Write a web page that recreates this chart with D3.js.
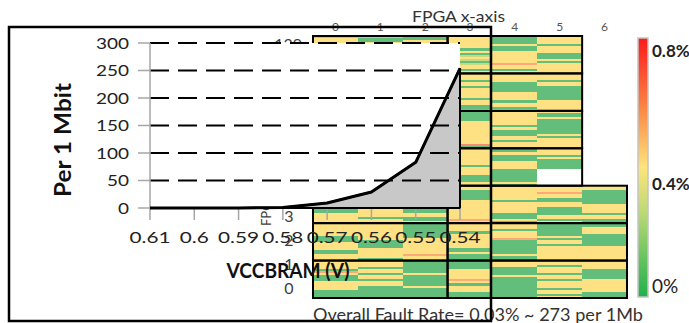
<!DOCTYPE html>
<html>
<head>
<meta charset="utf-8">
<script src="https://cdn.jsdelivr.net/npm/d3@7"></script>
<style>
    body { margin: 0; background: #fff; }
    text { font-family: Lato, "Open Sans", sans-serif; }
</style>
</head>
<body>
<svg id="chart" width="689" height="323"></svg>
<script>
// inset chart: faults per 1 Mbit vs VCCBRAM
const voltages = ["0.61", "0.6", "0.59", "0.58", "0.57", "0.56", "0.55", "0.54"];
const faultsPerMbit = [0, 0, 0, 1, 9, 29, 83, 254];
const yTicks = [0, 50, 100, 150, 200, 250, 300];

// FPGA heat map, one string per clock region row (top -> bottom), one char per BRAM stripe
// G = 0%, g = ~0.1%, l = ~0.25%, Y = ~0.4%, o = ~0.6%, r = ~0.7%, . = no BRAM
const col0 = ["oYYYGYYGYYYGYYGYYY", "", "", "", "YYGYYYGYYYYGGYYYYY", "YYYYYYGGGYYYYGGYYY", "YYYYGoYGGGYYYYGGGG"];
const col1 = ["oGGYYYGGYYYGYYYGYY", "", "", "", "GYYGYYYYYYYYYYYGYY", "YYYYYYYYGGGGYYYYYG", "YYYGYYGYYGYYGGGGGG"];
const col2 = ["GGYYYGGYGYYYGGYYYG", "", "", "", "GGYYGGYYGYYGGYYGGY", "GGGGGGGYYYYYYYYoYY", "GGGGGGYGGGGGYGGGGG"];
const col3 = ["YYYYYYGYGlYlGlYYGY", "YYYGYYGYYYYYGYYGGY", "GGGGGYYYYYYYYYYYrG", "YYYYYYYYGYYYYGGGYY",
              "YYGGGGGYYYYYYYYYoY", "YYYYGYYYYYYYGGYGGG", "GGGGYYYYYoYGYYYGGG"];
const col4 = ["GGGGYGGYYYYYYoYYGY", "YYYYGGGGGYYYYGYYGY", "YYYYYYYGYGGGYYGYYY", "GGYGGGYYYYGGGGGGYG",
              "YYYYYYYGYYYYYGGGYG", "YYYGYYYoGGGGGGGYGG", "YYYGGGGYGGGGGGGGGG"];
const col5 = ["YYYYGYYYGGGYGYYYYY", "YYYGYYGGGGGGGYYYYY", "YGGYGGGGGGGYGYYYYY", "YYYGYGGGGG........",
              "YYYoYYGGYYGGGGYYGY", "GGGGGGYGYYGYYYYYYY", "YYGYYYGYYGYYYGYYGY"];
const col6 = ["", "", "", "", "YYGGGGGGGYYYYGYYGG", "GGYYYGGGGGGYYYYYYY", "YYYYGGGGGYYYYYYGGG"];

const fpgaCols = ["0", "1", "2", "3", "4", "5", "6"];
const fpgaRowLabels = ["0", "1", "2", "3"];
const stripeLevels = { G: 0, g: 0.1, l: 0.25, Y: 0.43, o: 0.6, r: 0.7 };
const legendTicks = [0, 0.4, 0.8];
const legendLabels = ["0%", "0.4%", "0.8%"];

const svg = d3.select("#chart");

function stretch(sel, len) {
    sel.attr("textLength", len).attr("lengthAdjust", "spacingAndGlyphs");
}

// ---------- heat map ----------
const columns = [col0, col1, col2, col3, col4, col5, col6];
const xBand = d3.scaleBand().domain(fpgaCols).range([313, 627]);
const rowBand = d3.scaleBand().domain(d3.range(7)).range([36, 298]);
const heat = d3.scaleLinear()
    .domain([0, 0.4, 0.8])
    .range(["#63BE7B", "#FFEB84", "#F8696B"]);

let stripes = [];
columns.forEach((col, c) => {
    col.forEach((s, r) => {
        const h = rowBand.bandwidth() / (s.length || 1);
        s.split("").forEach((ch, i) => {
            if (ch === ".") return;
            stripes.push({ col: fpgaCols[c], row: r, i: i, h: h, v: stripeLevels[ch] });
        });
    });
});

svg.append("g")
    .attr("shape-rendering", "crispEdges")
    .selectAll("rect")
    .data(stripes)
    .join("rect")
    .attr("x", d => xBand(d.col))
    .attr("y", d => rowBand(d.row) + d.i * d.h)
    .attr("width", xBand.bandwidth())
    .attr("height", d => d.h + 0.4)
    .attr("fill", d => heat(d.v));

// clock region borders: left half cols 0-2, right half cols 3..last
const regions = [];
d3.range(7).forEach(r => {
    regions.push({ row: r, from: 0, to: 2 });
    const last = col6[r] ? 6 : 5;
    regions.push({ row: r, from: 3, to: last });
});
svg.append("g")
    .selectAll("rect")
    .data(regions)
    .join("rect")
    .attr("x", d => xBand(fpgaCols[d.from]))
    .attr("y", d => rowBand(d.row))
    .attr("width", d => xBand(fpgaCols[d.to]) + xBand.bandwidth() - xBand(fpgaCols[d.from]))
    .attr("height", rowBand.bandwidth())
    .attr("fill", "none")
    .attr("stroke", "#000")
    .attr("stroke-width", 2);

svg.append("g")
    .selectAll("text")
    .data(fpgaCols)
    .join("text")
    .attr("x", d => xBand(d) + xBand.bandwidth() / 2)
    .attr("y", 31)
    .attr("text-anchor", "middle")
    .attr("font-size", 12)
    .attr("fill", "#555")
    .text(d => d);

svg.append("text")
    .attr("x", 412)
    .attr("y", 22)
    .attr("font-size", 16)
    .attr("fill", "#333")
    .text("FPGA x-axis")
    .call(stretch, 93);

const fpgaY = d3.scaleLinear().domain([0, 3]).range([294, 222]);
svg.append("g")
    .selectAll("text")
    .data(fpgaRowLabels)
    .join("text")
    .attr("x", 289)
    .attr("y", d => fpgaY(+d))
    .attr("text-anchor", "middle")
    .attr("font-size", 16)
    .attr("fill", "#404040")
    .text(d => d);

svg.append("text")
    .attr("x", 302)
    .attr("y", 50)
    .attr("text-anchor", "end")
    .attr("font-size", 16)
    .attr("fill", "#404040")
    .text("139");

svg.append("text")
    .attr("transform", "translate(271,226) rotate(-90)")
    .attr("font-size", 13)
    .attr("fill", "#404040")
    .text("FPGA y-axis");

svg.append("text")
    .attr("x", 313)
    .attr("y", 321)
    .attr("font-size", 18)
    .attr("fill", "#333")
    .text("Overall Fault Rate= 0.03% ~ 273 per 1Mb")
    .call(stretch, 330);

// legend bar
const grad = svg.append("defs").append("linearGradient")
    .attr("id", "legendGrad")
    .attr("x1", 0).attr("y1", 0).attr("x2", 0).attr("y2", 1);
grad.append("stop").attr("offset", "0%").attr("stop-color", "#fb1b1b");
grad.append("stop").attr("offset", "28%").attr("stop-color", "#fa8a48");
grad.append("stop").attr("offset", "50%").attr("stop-color", "#fde47c");
grad.append("stop").attr("offset", "68%").attr("stop-color", "#b9d976");
grad.append("stop").attr("offset", "100%").attr("stop-color", "#20b04c");

svg.append("rect")
    .attr("x", 638)
    .attr("y", 38)
    .attr("width", 10)
    .attr("height", 259)
    .attr("fill", "url(#legendGrad)")
    .attr("stroke", "#c4c4c4")
    .attr("stroke-width", 1.5);

const legendY = d3.scaleLinear().domain(legendTicks).range([293, 190, 57]);
svg.append("g")
    .selectAll("text")
    .data(legendTicks)
    .join("text")
    .attr("x", 652)
    .attr("y", d => legendY(d))
    .attr("font-size", d => d === 0 ? 19 : 17)
    .attr("font-weight", d => d === 0 ? "normal" : "bold")
    .attr("fill", "#222")
    .text((d, i) => legendLabels[i]);

// ---------- inset chart ----------
const x = d3.scalePoint().domain(voltages).range([150, 460]);
const y = d3.scaleLinear().domain([0, 300]).range([208, 43]);
const points = voltages.map((v, i) => ({ v: v, f: faultsPerMbit[i] }));

const inset = svg.append("g");

inset.append("rect")
    .attr("x", 140)
    .attr("y", y(300))
    .attr("width", x("0.54") - 140)
    .attr("height", y(0) - y(300))
    .attr("fill", "#fff");

inset.append("path")
    .datum(points)
    .attr("d", d3.area().x(d => x(d.v)).y0(y(0)).y1(d => y(d.f)))
    .attr("fill", "#c8c8c8")
    .attr("stroke", "#000")
    .attr("stroke-width", 2);

inset.append("g")
    .selectAll("line")
    .data(yTicks.filter(t => t > 0))
    .join("line")
    .attr("x1", x("0.61"))
    .attr("x2", x("0.54"))
    .attr("y1", d => y(d))
    .attr("y2", d => y(d))
    .attr("stroke", "#000")
    .attr("stroke-width", 2)
    .attr("stroke-dasharray", "19,9");

// axes
inset.append("line")
    .attr("x1", x("0.61")).attr("x2", x("0.61"))
    .attr("y1", y(300)).attr("y2", y(0))
    .attr("stroke", "#a6a6a6").attr("stroke-width", 1.5);

inset.append("g")
    .selectAll("line")
    .data(yTicks)
    .join("line")
    .attr("x1", x("0.61") - 12).attr("x2", x("0.61"))
    .attr("y1", d => y(d)).attr("y2", d => y(d))
    .attr("stroke", "#a6a6a6").attr("stroke-width", 1.5);

inset.append("g")
    .selectAll("line")
    .data(voltages)
    .join("line")
    .attr("x1", d => x(d)).attr("x2", d => x(d))
    .attr("y1", y(0)).attr("y2", y(0) + 12)
    .attr("stroke", "#a6a6a6").attr("stroke-width", 1.5);

inset.append("line")
    .attr("x1", x("0.61")).attr("x2", x("0.54"))
    .attr("y1", y(0)).attr("y2", y(0))
    .attr("stroke", "#000").attr("stroke-width", 2);

inset.append("path")
    .datum(points)
    .attr("d", d3.line().x(d => x(d.v)).y(d => y(d.f)))
    .attr("fill", "none")
    .attr("stroke", "#000")
    .attr("stroke-width", 3)
    .attr("stroke-linejoin", "round");

inset.append("g")
    .selectAll("text")
    .data(yTicks)
    .join("text")
    .attr("x", 129)
    .attr("y", d => y(d) + 5.5)
    .attr("text-anchor", "end")
    .attr("font-size", 16)
    .attr("fill", "#222")
    .text(d => d)
    .each(function (d) { stretch(d3.select(this), String(d).length * 11); });

inset.append("g")
    .selectAll("text")
    .data(voltages)
    .join("text")
    .attr("x", d => x(d))
    .attr("y", 243)
    .attr("text-anchor", "middle")
    .attr("font-size", 16)
    .attr("fill", "#222")
    .text(d => d)
    .each(function (d) { stretch(d3.select(this), (d.length - 1) * 12 + 5); });

inset.append("text")
    .attr("x", 288)
    .attr("y", 278)
    .attr("text-anchor", "middle")
    .attr("font-size", 20)
    .attr("font-weight", "bold")
    .attr("fill", "#111")
    .text("VCCBRAM (V)")
    .call(stretch, 123);

inset.append("text")
    .attr("transform", "translate(71,140) rotate(-90)")
    .attr("text-anchor", "middle")
    .attr("font-size", 22)
    .attr("font-weight", "bold")
    .attr("fill", "#111")
    .text("Per 1 Mbit")
    .call(stretch, 114);

// inset frame
inset.append("rect")
    .attr("x", 9)
    .attr("y", 27)
    .attr("width", 482)
    .attr("height", 294)
    .attr("fill", "none")
    .attr("stroke", "#000")
    .attr("stroke-width", 2.5);
</script>
</body>
</html>
